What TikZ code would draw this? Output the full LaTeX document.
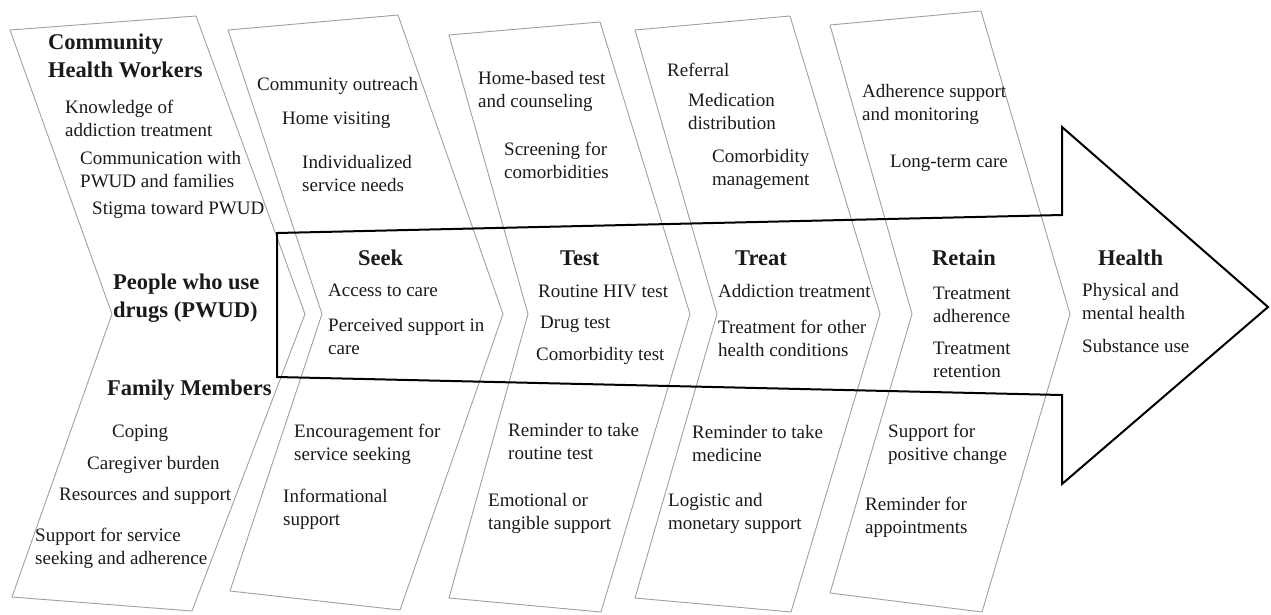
\documentclass[tikz,border=0pt]{standalone}
\usepackage{fontspec}
\setmainfont{Liberation Serif}
\definecolor{ink}{HTML}{1A1A1A}
\definecolor{rim}{HTML}{A0A0A0}

\begin{document}
\begin{tikzpicture}[x=1pt,y=-1pt,
    chev/.style={draw=rim,line width=0.9pt},
    flow/.style={draw=black,line width=2pt},
    item/.style={anchor=west,align=left,inner sep=0pt,text=ink,font=\fontsize{19}{23}\selectfont},
    head/.style={item,font=\fontsize{22.5}{28}\selectfont\bfseries}]
  \useasboundingbox (0,0) rectangle (1271,614);
  % the five chevrons
  \foreach \tlx/\tly/\trx/\try/\tip/\brx/\bry/\blx/\bly/\notch in {
      10/30/196/16/305/192/611/12/597/112,
      228/30/398/15/503/400/610/230/591/322,
      449/35/600/22/690/601/612/449/598/528,
      635/30/790/16/880/791/612/635/598/717,
      830/25/981/11/1070/982/612/830/593/912}{
    \draw[chev] (\tlx,\tly) -- (\trx,\try) -- (\tip,314) -- (\brx,\bry) -- (\blx,\bly) -- (\notch,314) -- cycle;
  }
  % the big arrow
  \draw[flow] (277,233) -- (1062,215) -- (1062,127) -- (1268,307) -- (1062,484) -- (1062,395) -- (277,377) -- cycle;
  % actors
  \node[head] (chw) at (48,56) {Community\\Health Workers};
  \node[head] (pwud) at (113,298) {People who use\\drugs (PWUD)};
  \node[head] (fam) at (107,390) {Family Members};
  \foreach \nm/\x/\y/\txt in {chw1/65/118.5/{Knowledge of\\addiction treatment},
      chw2/80/170/{Communication with\\PWUD and families},
      chw3/92/210/{Stigma toward PWUD},
      fam1/112/433/{Coping},
      fam2/87/465/{Caregiver burden},
      fam3/59/496/{Resources and support},
      fam4/35/548.5/{Support for service\\seeking and adherence}}{
    \node[item] (\nm) at (\x,\y) {\txt};
  }
  % seek
  \node[head] (seek) at (358,258) {Seek};
  \foreach \nm/\x/\y/\txt in {sk1/257/86/{Community outreach},
      sk2/282/120/{Home visiting},
      sk3/302/173/{Individualized\\service needs},
      sk4/328/290/{Access to care},
      sk5/328/336/{Perceived support in\\care},
      sk6/294/444/{Encouragement for\\service seeking},
      sk7/283/509/{Informational\\support}}{
    \node[item] (\nm) at (\x,\y) {\txt};
  }
  % test
  \node[head] (test) at (560,258) {Test};
  \foreach \nm/\x/\y/\txt in {ts1/478/91/{Home-based test\\and counseling},
      ts2/504/160/{Screening for\\comorbidities},
      ts3/538/291/{Routine HIV test},
      ts4/540/324/{Drug test},
      ts5/536/356/{Comorbidity test},
      ts6/508/441/{Reminder to take\\routine test},
      ts7/488/513/{Emotional or\\tangible support}}{
    \node[item] (\nm) at (\x,\y) {\txt};
  }
  % treat
  \node[head] (treat) at (735,258) {Treat};
  \foreach \nm/\x/\y/\txt in {tr1/667/70/{Referral},
      tr2/688/111/{Medication\\distribution},
      tr3/712/169/{Comorbidity\\management},
      tr4/718/291/{Addiction treatment},
      tr5/718/338/{Treatment for other\\health conditions},
      tr6/692/443/{Reminder to take\\medicine},
      tr7/668/513/{Logistic and\\monetary support}}{
    \node[item] (\nm) at (\x,\y) {\txt};
  }
  % retain
  \node[head] (retain) at (932,258) {Retain};
  \foreach \nm/\x/\y/\txt in {rt1/862/104/{Adherence support\\and monitoring},
      rt2/890/163/{Long-term care},
      rt3/933/305/{Treatment\\adherence},
      rt4/933/360/{Treatment\\retention},
      rt5/888/444/{Support for\\positive change},
      rt6/865/517/{Reminder for\\appointments}}{
    \node[item] (\nm) at (\x,\y) {\txt};
  }
  % health
  \node[head] (health) at (1098,258) {Health};
  \node[item] (hl1) at (1082,301) {Physical and\\mental health};
  \node[item] (hl2) at (1082,346) {Substance use};
\end{tikzpicture}
\end{document}
